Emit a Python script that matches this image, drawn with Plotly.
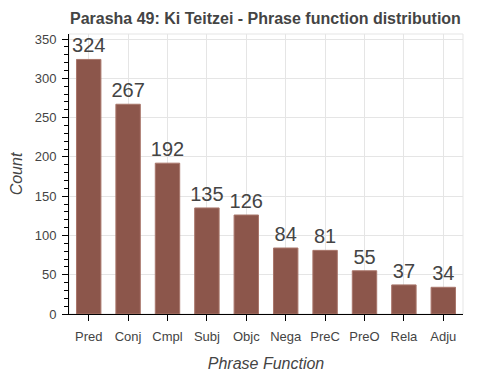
import plotly.graph_objects as go

categories = ["Pred", "Conj", "Cmpl", "Subj", "Objc", "Nega", "PreC", "PreO", "Rela", "Adju"]
counts = [324, 267, 192, 135, 126, 84, 81, 55, 37, 34]

FONT = "Liberation Sans"

fig = go.Figure()
fig.add_trace(go.Bar(
    x=categories, y=counts,
    marker=dict(color="#8c564b", line=dict(color="#a9766b", width=1)),
    width=0.62,
    text=[str(c) for c in counts],
    textposition="outside",
    constraintext="none",
    textfont=dict(size=20, color="#444444", family=FONT),
    cliponaxis=False,
))

fig.update_layout(
    width=500, height=375,
    margin=dict(l=61, r=45, t=26, b=69, autoexpand=False),
    paper_bgcolor="white", plot_bgcolor="white",
    showlegend=False,
    font=dict(family=FONT, color="#444444", size=13),
    title=dict(text="<b>Parasha 49: Ki Teitzei - Phrase function distribution</b>",
               x=0.124, xanchor="left", y=0.988, yanchor="top",
               font=dict(size=16, color="#444444", family=FONT)),
    bargap=0.38,
)
fig.update_xaxes(
    showline=True, linecolor="black", linewidth=1,
    ticks="outside", ticklen=6, tickcolor="black",
    showgrid=True, gridcolor="#e5e5e5",
    automargin=False,
    ticklabelstandoff=4,
    title=dict(text="<i>Phrase Function</i>", font=dict(size=16, color="#444444", family=FONT), standoff=15),
    tickfont=dict(size=13, color="#444444", family=FONT),
)
fig.update_yaxes(
    range=[0, 356.4], tickvals=[0, 50, 100, 150, 200, 250, 300, 350],
    showline=True, linecolor="black", linewidth=1,
    ticks="outside", ticklen=6, tickcolor="black",
    minor=dict(ticks="outside", ticklen=4, dtick=10, tick0=0, tickcolor="black", showgrid=False),
    showgrid=True, gridcolor="#e5e5e5",
    zeroline=False,
    automargin=False,
    ticklabelstandoff=3,
    title=dict(text="<i>Count</i>", font=dict(size=16, color="#444444", family=FONT), standoff=16),
    tickfont=dict(size=13, color="#444444", family=FONT),
)
fig.add_shape(type="rect", xref="paper", yref="paper", x0=0, y0=0, x1=1, y1=1,
              line=dict(color="#e5e5e5", width=1), layer="below")

fig.write_html("out.html")
